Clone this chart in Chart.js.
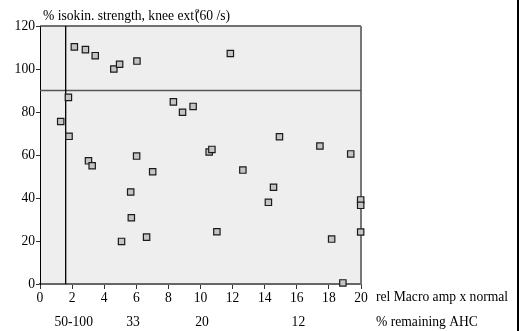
<!DOCTYPE html>
<html>
<head>
<meta charset="utf-8">
<script src="https://cdn.jsdelivr.net/npm/chart.js@4"></script>
<style>
  html, body { margin: 0; padding: 0; background: #fff; }
  #wrap { position: relative; width: 519px; height: 331px; overflow: hidden; }
  #edge { position: absolute; right: 0; top: 0; width: 2px; height: 331px; background: #000; }
</style>
</head>
<body>
<div id="wrap">
  <canvas id="c" width="519" height="331"></canvas>
  <div id="edge"></div>
</div>
<script>
// Relative Macro EMG amplitude (x normal) per subject
const macroAmp = [1.29, 1.77, 1.81, 2.14, 2.83, 3.02, 3.25, 3.44, 4.6, 4.96,
                  5.08, 5.65, 5.69, 6.02, 6.04, 6.64, 7.02, 8.31, 8.88, 9.54,
                  10.54, 10.71, 11.02, 11.86, 12.64, 14.23, 14.55, 14.92, 17.44, 18.17,
                  18.87, 19.36, 19.98, 19.98, 19.98];
// Isokinetic knee extension strength, % of predicted
const strength = [75.6, 86.8, 68.7, 110.3, 109, 57.3, 55, 106.2, 100, 102.2,
                  19.8, 42.8, 30.8, 59.5, 103.7, 21.8, 52.2, 84.7, 79.9, 82.6,
                  61.4, 62.6, 24.3, 107.2, 53, 38, 45, 68.5, 64.2, 20.9,
                  0.5, 60.5, 39.1, 36.6, 24.2];

// Reference limits
const ampLimit = 1.6;
const strengthLimit = 90;

// Axis ticks
const xTickValues = [0, 2, 4, 6, 8, 10, 12, 14, 16, 18, 20];
const yTickValues = [0, 20, 40, 60, 80, 100, 120];

// Approximate % remaining anterior horn cells along the amplitude axis
const ahcAt = [2.1, 5.8, 10.1, 16.1];
const ahcLabels = ['50-100', '33', '20', '12'];

const FONT = 'Liberation Serif, Times New Roman, serif';
const FS = 13.6;

const points = macroAmp.map((x, i) => ({ x: x, y: strength[i] }));

const decor = {
  id: 'decor',
  beforeDraw(chart) {
    const a = chart.chartArea, ctx = chart.ctx;
    ctx.save();
    ctx.fillStyle = '#eeeeee';
    ctx.fillRect(a.left, a.top, a.right - a.left, a.bottom - a.top);
    ctx.restore();
  },
  beforeDatasetsDraw(chart) {
    const a = chart.chartArea, ctx = chart.ctx;
    ctx.save();
    ctx.strokeStyle = '#444';
    ctx.lineWidth = 1.5;
    ctx.beginPath();
    ctx.moveTo(a.left, a.top);
    ctx.lineTo(a.right, a.top);
    ctx.stroke();
    ctx.strokeStyle = '#777';
    ctx.lineWidth = 2;
    ctx.beginPath();
    ctx.moveTo(a.right, a.top);
    ctx.lineTo(a.right, a.bottom);
    ctx.stroke();
    ctx.restore();
  },
  afterDraw(chart) {
    const a = chart.chartArea, ctx = chart.ctx;
    ctx.save();
    ctx.fillStyle = '#000';
    ctx.textBaseline = 'alphabetic';
    ctx.font = FS + 'px ' + FONT;
    // y axis caption above the plot
    let tx = a.left + 3, ty = 20;
    const part1 = '% isokin. strength, knee ext';
    ctx.fillText(part1, tx, ty);
    tx += ctx.measureText(part1).width + 1;
    ctx.font = '9px ' + FONT;
    ctx.fillText('o', tx, ty - 7);
    ctx.font = FS + 'px ' + FONT;
    ctx.fillText('(60 /s)', tx, ty);
    // x axis captions beside the tick rows
    const xs = chart.scales.x;
    const cx = xs.getPixelForValue(20) + 15;
    ctx.textBaseline = 'middle';
    ctx.fillText('rel Macro amp x normal', cx, 297);
    ctx.fillText('% remaining AHC', cx, 322);
    ctx.restore();
  }
};

new Chart(document.getElementById('c'), {
  type: 'scatter',
  data: {
    datasets: [
      {
        data: points,
        pointStyle: 'rect',
        pointRadius: 4.5,
        pointBackgroundColor: '#c4c4c4',
        pointBorderColor: '#1a1a1a',
        pointBorderWidth: 1.2,
        clip: false,
        order: 0
      },
      {
        type: 'line',
        data: [{ x: ampLimit, y: 0 }, { x: ampLimit, y: 120 }],
        borderColor: '#000',
        borderWidth: 1.3,
        pointRadius: 0,
        order: 2
      },
      {
        type: 'line',
        data: [{ x: 0, y: strengthLimit }, { x: 20, y: strengthLimit }],
        borderColor: '#555',
        borderWidth: 1.3,
        pointRadius: 0,
        order: 2
      }
    ]
  },
  options: {
    responsive: false,
    animation: false,
    layout: { padding: { left: 0, top: 26, right: 158, bottom: 0 } },
    plugins: { legend: { display: false }, tooltip: { enabled: false } },
    scales: {
      x: {
        type: 'linear',
        position: 'bottom',
        min: 0, max: 20,
        afterBuildTicks: s => { s.ticks = xTickValues.map(v => ({ value: v })); },
        afterFit: s => { s.height = 26; },
        grid: { drawOnChartArea: false, drawTicks: true, tickLength: 5, color: '#333' },
        border: { display: true, color: '#666', width: 2 },
        ticks: { color: '#000', font: { family: FONT, size: FS }, padding: 1, maxRotation: 0, autoSkip: false }
      },
      x2: {
        type: 'linear',
        position: 'bottom',
        min: 0, max: 20,
        afterBuildTicks: s => { s.ticks = ahcAt.map(v => ({ value: v })); },
        afterFit: s => { s.height = 21; },
        grid: { display: false, drawTicks: false },
        border: { display: false },
        ticks: {
          color: '#000', font: { family: FONT, size: FS }, padding: 4, maxRotation: 0, autoSkip: false,
          callback: (v, i) => ahcLabels[i]
        }
      },
      y: {
        type: 'linear',
        min: 0, max: 120,
        afterBuildTicks: s => { s.ticks = yTickValues.map(v => ({ value: v })); },
        afterFit: s => { s.width = 40; },
        grid: { drawOnChartArea: false, drawTicks: true, tickLength: 4, color: '#333' },
        border: { display: true, color: '#000', width: 1 },
        ticks: { color: '#000', font: { family: FONT, size: FS }, padding: 1 }
      }
    }
  },
  plugins: [decor]
});
</script>
</body>
</html>
